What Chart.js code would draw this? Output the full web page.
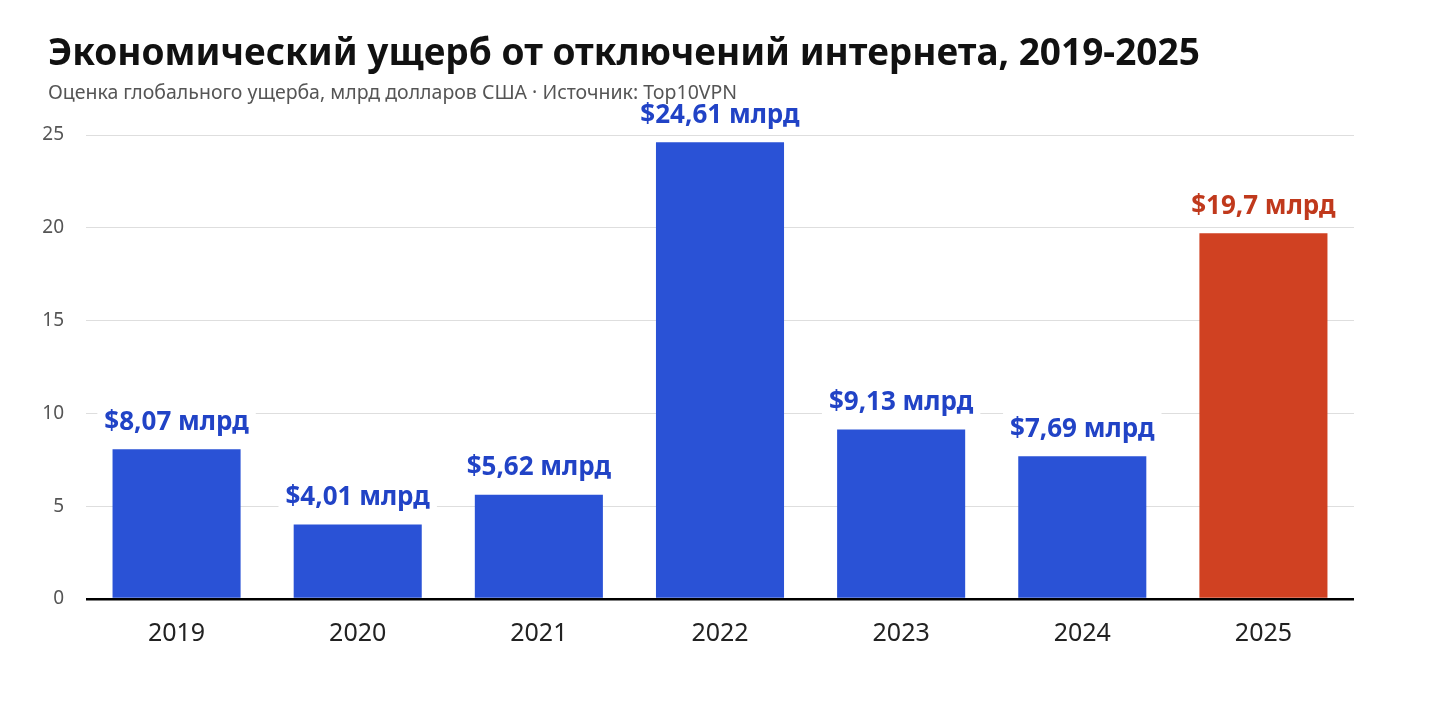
<!DOCTYPE html>
<html lang="ru">
<head>
<meta charset="utf-8">
<script src="https://cdn.jsdelivr.net/npm/chart.js@4/dist/chart.umd.min.js"></script>
<style>
  html, body { margin: 0; padding: 0; background: #fff; }
  #wrap { position: relative; width: 1440px; height: 727px; }
  #titulo { position: absolute; left: 48px; top: 25px; font: bold 37px "Noto Sans", sans-serif; color: #111; white-space: nowrap; }
  #subtitulo { position: absolute; left: 48px; top: 78px; font: 19.5px "Noto Sans", sans-serif; color: #555; white-space: nowrap; }
  canvas { position: absolute; left: 0; top: 0; }
</style>
</head>
<body>
<div id="wrap">
  <canvas id="plot" width="1440" height="727"></canvas>
  <div id="titulo">Экономический ущерб от отключений интернета, 2019-2025</div>
  <div id="subtitulo">Оценка глобального ущерба, млрд долларов США · Источник: Top10VPN</div>
</div>
<script>
// datos del gráfico
let anios = ['2019', '2020', '2021', '2022', '2023', '2024', '2025'];
let danos = [8.07, 4.01, 5.62, 24.61, 9.13, 7.69, 19.7];
let ticksY = [0, 5, 10, 15, 20, 25];

let azul = '#2a52d6';
let rojo = '#d04122';
let colores = anios.map(a => a === '2025' ? rojo : azul);
let coloresEtiqueta = anios.map(a => a === '2025' ? '#c0391c' : '#2143c6');

// etiquetas encima de las barras, con fondo blanco
let etiquetas = {
  id: 'etiquetas',
  afterDatasetsDraw(chart) {
    let ctx = chart.ctx;
    let meta = chart.getDatasetMeta(0);
    ctx.save();
    ctx.font = 'bold 26px "Noto Sans", sans-serif';
    ctx.textAlign = 'center';
    ctx.textBaseline = 'middle';
    meta.data.forEach((bar, i) => {
      let texto = '$' + String(danos[i]).replace('.', ',') + ' млрд';
      let w = ctx.measureText(texto).width;
      let y = bar.y - 27;
      ctx.fillStyle = '#fff';
      ctx.fillRect(bar.x - w / 2 - 7, y - 17, w + 14, 34);
      ctx.fillStyle = coloresEtiqueta[i];
      ctx.fillText(texto, bar.x, y);
    });
    ctx.restore();
  }
};

let config = {
  type: 'bar',
  data: {
    labels: anios,
    datasets: [{
      data: danos,
      backgroundColor: colores,
      barPercentage: 0.707,
      categoryPercentage: 1
    }]
  },
  options: {
    responsive: false,
    animation: false,
    layout: { padding: { top: 135, right: 86, left: 0, bottom: 0 } },
    plugins: { legend: { display: false }, tooltip: { enabled: false } },
    scales: {
      x: {
        grid: { display: false, drawTicks: false },
        border: { display: false },
        ticks: { padding: 20, color: '#222', font: { family: 'Noto Sans', size: 25 } },
        afterFit: s => { s.height = 128; }
      },
      y: {
        min: 0,
        max: 25,
        afterBuildTicks: s => { s.ticks = ticksY.map(v => ({ value: v })); },
        grid: {
          drawTicks: false,
          color: c => c.tick.value === 0 ? '#000' : '#dedede',
          lineWidth: c => c.tick.value === 0 ? 2.5 : 1
        },
        border: { display: false },
        ticks: { padding: 22, color: '#555', font: { family: 'Noto Sans', size: 19 } },
        afterFit: s => { s.width = 86; }
      }
    }
  },
  plugins: [etiquetas]
};

let chart = new Chart(document.getElementById('plot'), config);
</script>
</body>
</html>
